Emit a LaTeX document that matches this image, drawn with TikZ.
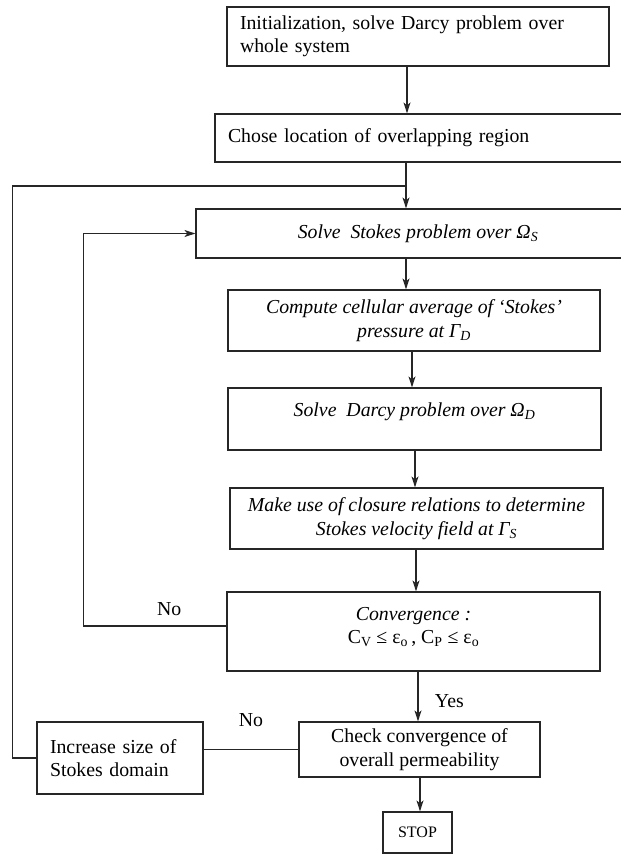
\documentclass[tikz,border=0pt]{standalone}
\usepackage{fontspec}
\setmainfont{Liberation Serif}
\usepackage{tikz}
\usetikzlibrary{arrows,arrows.meta,positioning,calc}
\tikzset{post/.style={->,>={Stealth[length=11pt,width=7pt,inset=3pt]}},
         block/.style={rectangle,draw,inner xsep=13pt,inner ysep=0pt},
         txt/.style={font=\fontsize{19.8}{23.5}\selectfont},
         itxt/.style={font=\fontsize{19.8}{23.5}\selectfont\itshape}
}

\begin{document}
\begin{tikzpicture}[x=1pt,y=-1pt,line width=1.2pt,draw=black!85,txt]
    \useasboundingbox (0,0) rectangle (621,854);
            %            init
            %            loc
            %  +------>  stokes ... conv
            %  |                  check  -- incr
            %                     stop
        \node[block, text width=356pt, align=left, minimum height=59pt] (init) at (418,36.5)
            {Initialization, solve Darcy problem over\\whole system};
        \node[block, text width=399pt, align=left, minimum height=48pt] (loc) at (427.5,138)
            {Chose location of overlapping region};
        \node[block, itxt, minimum width=444pt, minimum height=49pt] (stokes) at (418,233.5)
            {Solve\ \ Stokes problem over Ω\textsubscript{S}};
        \node[block, itxt, align=center, minimum width=372pt, minimum height=61pt] (avg) at (414,320.5)
            {Compute cellular average of `Stokes'\\pressure at Γ\textsubscript{D}};
        \node[block, itxt, align=center, minimum width=373pt, minimum height=62pt] (darcy) at (414.5,419)
            {Solve\ \ Darcy problem over Ω\textsubscript{D}\\[-5.5pt]\mbox{}};
        \node[block, itxt, align=center, minimum width=373pt, minimum height=61pt] (clos) at (416.5,518.5)
            {Make use of closure relations to determine\\Stokes velocity field at Γ\textsubscript{S}};
        \node[block, align=center, minimum width=373pt, minimum height=79pt] (conv) at (413.5,631.5)
            {\textit{Convergence :}\\C\textsubscript{V} ≤ ε\textsubscript{o}\,, C\textsubscript{P} ≤ ε\textsubscript{o}\\[-11pt]\mbox{}};
        \node[block, align=center, minimum width=241pt, minimum height=55pt] (check) at (419.5,749.5)
            {Check convergence of\\overall permeability};
        \node[block, text width=140pt, align=left, minimum height=72pt] (incr) at (120,758)
            {Increase size of\\Stokes domain};
        \node[block, font=\fontsize{16}{19}\selectfont, minimum width=69pt, minimum height=41pt] (stop) at (417.5,832.5)
            {STOP};
        % arrow columns
        \coordinate (c1) at (407,0);
        \coordinate (c2) at (406,0);
        \coordinate (c3) at (412,0);
        \coordinate (c4) at (415,0);
        \coordinate (c5) at (416,0);
        \coordinate (c6) at (418,0);
        \coordinate (c7) at (420,0);
        \coordinate (j) at (406,186);
        \draw[post] (init.south -| c1) -- (loc.north -| c1);
        \draw[post] (loc.south -| c2) -- (stokes.north -| c2);
        \draw[post] (stokes.south -| c2) -- (avg.north -| c2);
        \draw[post] (avg.south -| c3) -- (darcy.north -| c3);
        \draw[post] (darcy.south -| c4) -- (clos.north -| c4);
        \draw[post] (clos.south -| c5) -- (conv.north -| c5);
        \draw[post] (conv.south -| c6) -- node[right, pos=0.6, xshift=13pt] {Yes} (check.north -| c6);
        \draw[post] (check.south -| c7) -- (stop.north -| c7);
        % loops back
        \draw[post] ([yshift=5.5pt]conv.west) -- node[above, pos=0.4, yshift=6pt] {No} ++(-143,0) |- (stokes.west);
        \draw (check.west) -- node[above, yshift=19pt] {No} (check.west -| incr.east);
        \draw (incr.west) -- ++(-24,0) |- (j);
\end{tikzpicture}
\end{document}
